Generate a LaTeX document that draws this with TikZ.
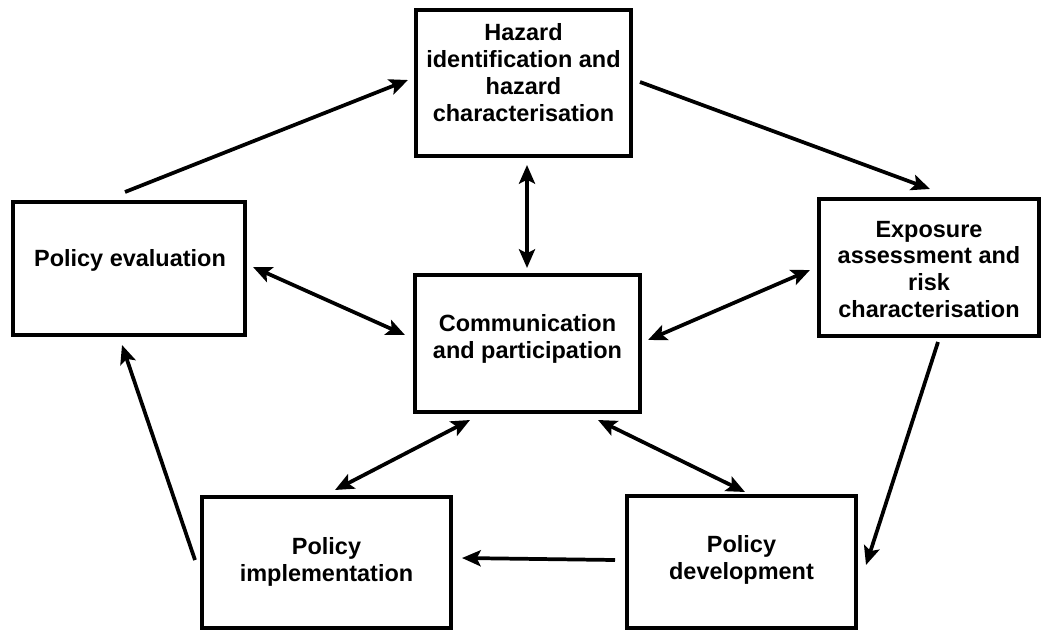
\documentclass[tikz,border=0pt]{standalone}
\usepackage{fontspec}
\setmainfont{Liberation Sans}
\usetikzlibrary{arrows.meta,calc}
\begin{document}
\begin{tikzpicture}[x=0.75pt,y=-0.75pt,
  box/.style 2 args={draw, line width=3.5pt, inner sep=0pt, outer sep=0pt,
    minimum width=#1*0.75pt, minimum height=#2*0.75pt},
  txt/.style={align=center, inner sep=0pt, font=\bfseries\fontsize{17.6}{20.2}\selectfont},
  arr/.style={line width=2.8pt, -{Stealth[length=14pt,width=12pt,inset=3pt]}},
  darr/.style={line width=2.8pt, {Stealth[length=14pt,width=12pt,inset=3pt]}-{Stealth[length=14pt,width=12pt,inset=3pt]}}]
\useasboundingbox (0,0) rectangle (1041,631);
% boxes
\node[box={215}{146}] (haz) at (523.5,83) {};
\node[box={232}{133}] (pe) at (129,268.5) {};
\node[box={225}{137}] (cen) at (527.5,343.5) {};
\node[box={220}{137}] (exp) at (929,267.5) {};
\node[box={249}{131}] (pi) at (326.5,562.5) {};
\node[box={229}{132}] (pd) at (741.5,562) {};
% texts
\node[txt] (hazt) at ([shift={(0,-10)}]haz.center) {Hazard\\identification and\\hazard\\characterisation};
\node[txt] (pet) at ([shift={(1,-8)}]pe.center) {Policy evaluation};
\node[txt] (cent) at ([shift={(0,-5)}]cen.center) {Communication\\and participation};
\node[txt] (expt) at ([shift={(0,2)}]exp.center) {Exposure\\assessment and\\risk\\characterisation};
\node[txt] (pit) at ([shift={(0,-1)}]pi.center) {Policy\\implementation};
\node[txt] (pdt) at ([shift={(0,-2)}]pd.center) {Policy\\development};
% cycle arrows
\draw[arr] ([shift={(-4,-76.5)}]pe.center) -- ([shift={(-115.5,-3)}]haz.center);
\draw[arr] ([shift={(116.5,-1)}]haz.center) -- ([shift={(1,-78.5)}]exp.center);
\draw[arr] ([shift={(9,74.5)}]exp.center) -- ([shift={(124.5,3)}]pd.center);
\draw[arr] ([shift={(-126.5,-2)}]pd.center) -- ([shift={(135.5,-4.5)}]pi.center);
\draw[arr] ([shift={(-131.5,-2.5)}]pi.center) -- ([shift={(-7,76.5)}]pe.center);
% two-way arrows
\draw[darr] ([shift={(3.5,82)}]haz.center) -- ([shift={(-0.5,-75.5)}]cen.center);
\draw[darr] ([shift={(124,-1.5)}]pe.center) -- ([shift={(-122.5,-8.5)}]cen.center);
\draw[darr] ([shift={(120.5,-3.5)}]cen.center) -- ([shift={(-119,2.5)}]exp.center);
\draw[darr] ([shift={(-57.5,76.5)}]cen.center) -- ([shift={(8.5,-72.5)}]pi.center);
\draw[darr] ([shift={(70.5,76.5)}]cen.center) -- ([shift={(3.5,-70)}]pd.center);
\end{tikzpicture}
\end{document}
